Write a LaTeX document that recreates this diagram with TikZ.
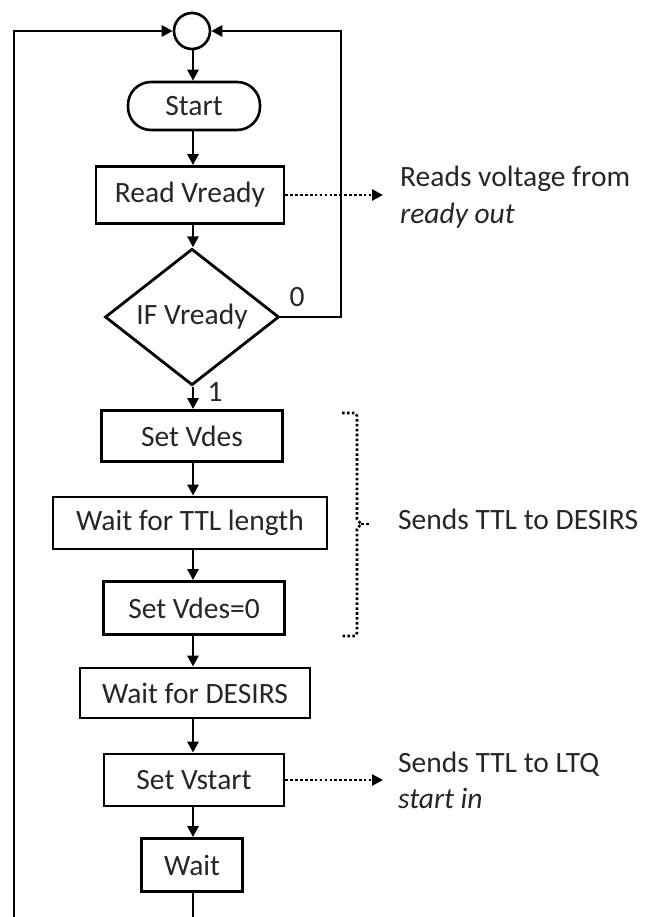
\documentclass[tikz,border=0pt]{standalone}
\usepackage{fontspec}
\setmainfont{Carlito}
\usetikzlibrary{shapes.geometric,arrows.meta}
\definecolor{txt}{HTML}{262626}
\begin{document}
\begin{tikzpicture}[x=1pt,y=-1pt,
  every node/.style={font=\fontsize{29.5}{36}\selectfont, text=txt},
  box/.style={draw, line width=2.8pt, inner sep=0pt},
  term/.style={draw, line width=2.6pt, inner sep=0pt, rounded corners=23pt},
  lbl/.style={inner sep=0pt},
  flow/.style={line width=2.8pt, -{Triangle[length=11pt,width=11pt]}},
  plain/.style={line width=2.8pt},
  note/.style={line width=2.6pt, dash pattern=on 2.6pt off 2.3pt, -{Triangle[length=11pt,width=11pt]}},
  bracket/.style={line width=2.6pt, dash pattern=on 2.6pt off 2.3pt},
]
\useasboundingbox (0,0) rectangle (649,917);
\coordinate (col) at (193,0);

\node[circle, draw, line width=2.6pt, minimum size=36pt, inner sep=0pt] (c) at (192,31) {};
\node[term, minimum width=132pt, minimum height=48pt] (start) at (194,106) {Start};
\node[box, minimum width=188pt, minimum height=57pt] (read) at (190,195) {Read Vready};
\node[diamond, draw, line width=2.8pt, minimum width=174pt, minimum height=117pt, inner sep=0pt] (if) at (192,317) {IF Vready};
\node[box, minimum width=181pt, minimum height=51pt] (setv) at (192,436) {Set Vdes};
\node[box, minimum width=274pt, minimum height=52pt] (wttl) at (190,523) {Wait for TTL length};
\node[box, minimum width=181pt, minimum height=53pt] (setv0) at (194,608) {Set Vdes=0};
\node[box, minimum width=230pt, minimum height=50pt] (wdes) at (195,693) {Wait for DESIRS};
\node[box, minimum width=180pt, minimum height=52pt] (vstart) at (194,780) {Set Vstart};
\node[box, minimum width=101pt, minimum height=53pt] (wait) at (192,865) {Wait};

\node[lbl] (zero) at (297,297) {0};
\node[lbl] (one) at (215,392) {1};

\node[lbl, anchor=base west, align=left] (t1) at (400,223) {Reads voltage from\\\textit{ready out}};
\node[lbl, anchor=base west] (t2) at (398,529) {Sends TTL to DESIRS};
\node[lbl, anchor=base west, align=left] (t3) at (398,808) {Sends TTL to LTQ\\\textit{start in}};

% main flow
\draw[flow] (c.south -| col) -- (start.north -| col);
\draw[flow] (start.south -| col) -- (read.north -| col);
\draw[flow] (read.south -| col) -- (if.north -| col);
\draw[flow] (if.south -| col) -- (setv.north -| col);
\draw[flow] (setv.south -| col) -- (wttl.north -| col);
\draw[flow] (wttl.south -| col) -- (setv0.north -| col);
\draw[flow] (setv0.south -| col) -- (wdes.north -| col);
\draw[flow] (wdes.south -| col) -- (vstart.north -| col);
\draw[flow] (vstart.south -| col) -- (wait.north -| col);
\coordinate (wb) at (193,917);
\draw[plain] (wait.south -| col) -- (wb);

% loops
\coordinate (lb) at (14,917);
\coordinate (lt) at (14,31);
\draw[flow] (lb) -- (lt) -- (c.west);
\coordinate (rc) at (341,317);
\draw[flow] (if.east) -- (rc) |- (c.east);

% notes
\coordinate (n1) at (383,195);
\draw[note] (read.east) -- (n1);
\coordinate (n3) at (383,780);
\draw[note] (vstart.east) -- (n3);

% bracket
\draw[bracket] (342,413) -- (355,413) -- (357,416) -- (357,519) -- (361,524) -- (357,529) -- (357,633) -- (355,636) -- (342,636);
\draw[bracket] (361,524) -- (369,524);
\end{tikzpicture}
\end{document}
